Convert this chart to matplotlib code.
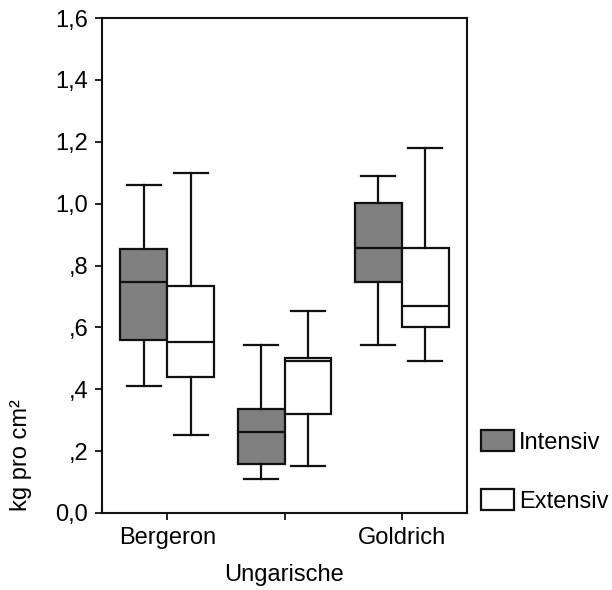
import matplotlib
matplotlib.use("Agg")
import matplotlib.pyplot as plt
from matplotlib.patches import Patch

plt.rcParams['font.family'] = ['Liberation Sans', 'DejaVu Sans']

categories = ['Bergeron', 'Ungarische', 'Goldrich']
groups = ['Intensiv', 'Extensiv']
colors = ['#808080', '#ffffff']

# five-number summaries per group: whislo, q1, med, q3, whishi
intensiv_whislo = [0.410, 0.111, 0.543]
intensiv_q1     = [0.559, 0.159, 0.748]
intensiv_med    = [0.748, 0.263, 0.857]
intensiv_q3     = [0.853, 0.337, 1.001]
intensiv_whishi = [1.059, 0.543, 1.090]

extensiv_whislo = [0.252, 0.153, 0.490]
extensiv_q1     = [0.441, 0.320, 0.601]
extensiv_med    = [0.554, 0.492, 0.669]
extensiv_q3     = [0.734, 0.500, 0.857]
extensiv_whishi = [1.100, 0.653, 1.180]

ytick_vals = [0.0, 0.2, 0.4, 0.6, 0.8, 1.0, 1.2, 1.4, 1.6]
ytick_labels = ['0,0', ',2', ',4', ',6', ',8', '1,0', '1,2', '1,4', '1,6']

FS = 17

fig = plt.figure(figsize=(6.12, 5.9), dpi=100)
ax = fig.add_axes([102/612, 1-513/590, (467-102)/612, (513-18)/590])

lw = 1.6
series = [
    (intensiv_whislo, intensiv_q1, intensiv_med, intensiv_q3, intensiv_whishi),
    (extensiv_whislo, extensiv_q1, extensiv_med, extensiv_q3, extensiv_whishi),
]
offsets = [-0.2, 0.2]
for gi, (wl, q1, md, q3, wh) in enumerate(series):
    stats = []
    for i in range(len(categories)):
        stats.append(dict(whislo=wl[i], q1=q1[i], med=md[i], q3=q3[i], whishi=wh[i], fliers=[]))
    pos = [i + offsets[gi] for i in range(len(categories))]
    ax.bxp(stats, positions=pos, widths=0.4, patch_artist=True, showfliers=False,
           capwidths=0.29, manage_ticks=False,
           boxprops=dict(facecolor=colors[gi], edgecolor='#111111', linewidth=lw),
           medianprops=dict(color='#111111', linewidth=lw),
           whiskerprops=dict(color='#111111', linewidth=lw),
           capprops=dict(color='#111111', linewidth=lw))

ax.set_xlim(-0.556, 2.556)
ax.set_ylim(0, 1.6)
ax.set_yticks(ytick_vals)
ax.set_yticklabels(ytick_labels)
ax.set_xticks(range(len(categories)))
ax.set_xticklabels([categories[0], '', categories[2]])
ax.set_xlabel(categories[1], fontsize=FS, labelpad=11)
ax.tick_params(axis='both', labelsize=FS, length=5, width=1.3, color='#111111', direction='out', pad=5)
for s in ax.spines.values():
    s.set_linewidth(1.5)
    s.set_color('#111111')

fig.text(21/612, 1-455/590, 'kg pro cm²', rotation=90, fontsize=FS, ha='center', va='center')

handles = [Patch(facecolor=colors[i], edgecolor='#111111', linewidth=lw, label=groups[i]) for i in range(2)]
fig.legend(handles=handles, loc='upper left', bbox_to_anchor=(481/612, 1-430/590), frameon=False,
           fontsize=FS, handlelength=1.4, handleheight=1.0, handletextpad=0.2,
           labelspacing=1.5, borderpad=0, borderaxespad=0)

fig.savefig('out.png', dpi=100)
